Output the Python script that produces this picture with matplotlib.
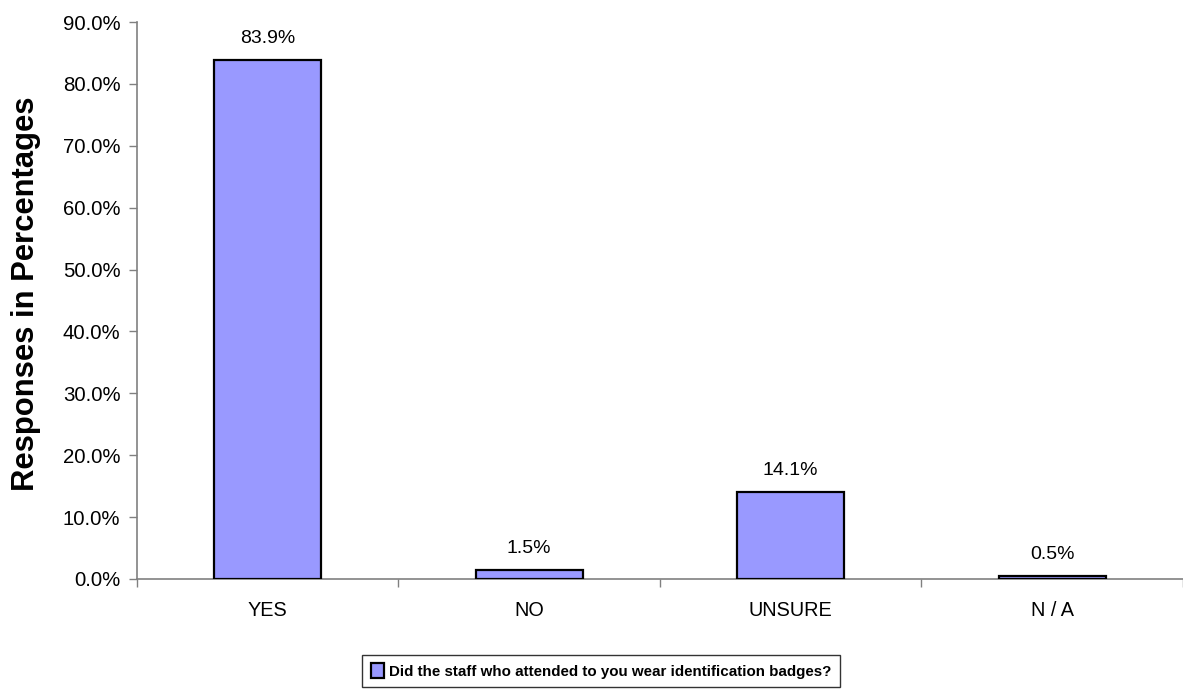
import matplotlib
matplotlib.use("Agg")
import matplotlib.pyplot as plt
from matplotlib.ticker import FuncFormatter, MultipleLocator, FixedLocator

categories = ["YES", "NO", "UNSURE", "N / A"]
percentages = [83.9, 1.5, 14.1, 0.5]
series_name = "Did the staff who attended to you wear identification badges?"
y_label = "Responses in Percentages"

plt.rcParams["font.family"] = ["Liberation Sans", "DejaVu Sans"]

fig = plt.figure(figsize=(11.83, 6.90), dpi=100)
ax = fig.add_axes([0.1158, 0.1609, 0.8842, 0.8072])

x = list(range(len(categories)))
bars = ax.bar(x, percentages, width=0.41, color="#9999FF",
              edgecolor="black", linewidth=1.6, label=series_name, zorder=3)

for xi, v in zip(x, percentages):
    ax.annotate(f"{v:.1f}%", (xi, v), xytext=(0, 9), textcoords="offset points",
                ha="center", va="bottom", fontsize=14)

ax.set_xlim(-0.5, len(categories) - 0.5)
ax.set_ylim(0, 90)
ax.yaxis.set_major_locator(MultipleLocator(10))
ax.yaxis.set_major_formatter(FuncFormatter(lambda v, p: f"{v:.1f}%"))

# category labels sit between tick marks drawn at the category boundaries
ax.set_xticks(x)
ax.set_xticklabels(categories)
ax.xaxis.set_minor_locator(FixedLocator([i - 0.5 for i in range(len(categories) + 1)]))
ax.tick_params(axis="x", which="major", length=0, pad=16, labelsize=14.3)
ax.tick_params(axis="x", which="minor", length=6, width=1, color="#808080",
               direction="out")
ax.tick_params(axis="y", length=6, width=1, color="#808080", direction="out",
               pad=6, labelsize=14.7)

for side in ("top", "right"):
    ax.spines[side].set_visible(False)
for side in ("left", "bottom"):
    ax.spines[side].set_color("#808080")
    ax.spines[side].set_linewidth(1.2)

fig.text(0.022, 0.575, y_label, rotation=90, ha="center", va="center",
         fontsize=22.3, fontweight="bold")

leg = fig.legend(handles=[bars], labels=[series_name], loc="upper center",
                 bbox_to_anchor=(0.508, 0.051), frameon=True, fancybox=False,
                 edgecolor="black", prop={"size": 10.9, "weight": "bold"},
                 handlelength=0.9, handleheight=1.1, handletextpad=0.3,
                 borderpad=0.55, borderaxespad=0)
leg.get_frame().set_linewidth(1.0)

fig.savefig("out.png", dpi=100)
